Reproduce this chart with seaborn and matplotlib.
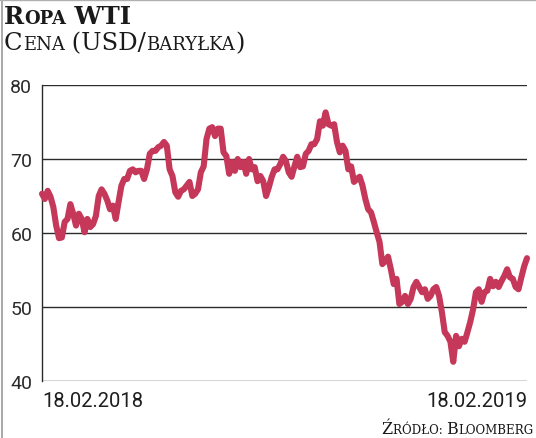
import matplotlib
matplotlib.use('Agg')
import matplotlib.pyplot as plt
from matplotlib.lines import Line2D
import seaborn as sns
import pandas as pd

# WTI price (USD per barrel), 18.02.2018 -> 18.02.2019
prices = [
    65.3, 64.6, 65.7, 64.9, 63.5, 61.0, 59.3, 59.4, 61.5, 61.9,
    63.9, 62.6, 61.0, 62.6, 61.9, 60.1, 61.9, 60.8, 61.2, 62.3,
    65.0, 65.9, 65.3, 64.4, 63.2, 63.7, 61.9, 64.2, 66.4, 67.3,
    67.3, 68.4, 68.6, 68.2, 68.4, 68.4, 67.3, 68.6, 70.7, 71.1,
    71.1, 71.6, 71.8, 72.3, 71.8, 68.6, 67.7, 65.5, 64.9, 65.7,
    65.9, 66.4, 66.9, 65.0, 65.3, 65.9, 68.2, 69.0, 72.7, 74.1,
    74.3, 73.1, 74.1, 74.1, 70.9, 70.4, 68.0, 69.6, 68.4, 70.0,
    68.9, 69.6, 68.0, 70.0, 68.6, 68.9, 67.0, 67.7, 67.0, 65.0,
    66.2, 67.6, 68.6, 68.6, 69.3, 70.3, 69.7, 68.2, 67.6, 69.0,
    70.3, 68.9, 69.0, 70.7, 71.1, 72.0, 72.0, 72.7, 75.1, 74.5,
    76.3, 74.7, 74.5, 74.7, 72.3, 70.9, 71.8, 71.1, 68.6, 69.0,
    66.9, 67.3, 67.6, 66.4, 64.6, 63.2, 62.8, 61.5, 60.1, 58.8,
    55.8, 56.2, 56.8, 55.1, 53.1, 53.8, 50.4, 50.7, 51.5, 50.4,
    51.1, 52.7, 53.4, 52.7, 52.0, 52.4, 51.1, 51.5, 52.4, 52.7,
    51.5, 49.3, 46.6, 46.1, 45.3, 42.6, 46.1, 44.7, 45.7, 45.3,
    46.6, 48.0, 49.7, 52.0, 52.4, 50.7, 52.0, 52.2, 53.8, 52.8,
    53.4, 52.7, 53.5, 54.2, 55.1, 54.0, 53.8, 52.7, 52.4, 54.0,
    55.5, 56.6,
]
start_date = '2018-02-18'
end_date = '2019-02-18'
x_labels = ['18.02.2018', '18.02.2019']
y_ticks = [40, 50, 60, 70, 80]

df = pd.DataFrame({
    'date': pd.date_range(start_date, end_date, periods=len(prices)),
    'price': prices,
})

sns.set_style('white')
plt.rcParams['font.family'] = ['Roboto', 'DejaVu Sans']

fig = plt.figure(figsize=(5.36, 4.39), dpi=100)
ax = fig.add_axes([42 / 536, 1 - 382 / 439, 485 / 536, 296 / 439])

sns.lineplot(data=df, x='date', y='price', ax=ax, color='#c5385a',
             linewidth=4.4, solid_capstyle='round', solid_joinstyle='round',
             clip_on=False, zorder=3)

ax.set_ylim(40, 80)
ax.set_xlim(df['date'].iloc[0], df['date'].iloc[-1])
ax.set_yticks(y_ticks)
ax.yaxis.grid(True, color='#2b2b2b', linewidth=1.0)
ax.set_axisbelow(True)
for side in ['top', 'right', 'bottom']:
    ax.spines[side].set_visible(False)
ax.spines['left'].set_color('#2b2b2b')
ax.spines['left'].set_linewidth(1.0)
ax.set_xlabel('')
ax.set_ylabel('')
ax.tick_params(axis='y', length=0, pad=7, labelsize=14, labelcolor='#2b2b2b')
ax.set_xticks([df['date'].iloc[0], df['date'].iloc[-1]])
ax.set_xticklabels(x_labels)
ax.tick_params(axis='x', length=0, pad=7, labelsize=14.5, labelcolor='#1e1e1e')
xt = ax.get_xticklabels()
xt[0].set_ha('left')
xt[1].set_ha('right')

# small-caps style text, built from pieces
fig.canvas.draw()
renderer = fig.canvas.get_renderer()


def small_caps(x, y, parts, weight, color='#1a1a1a', right=None):
    x0 = x
    texts = []
    for txt, size in parts:
        t = fig.text(x, y, txt, fontsize=size, fontweight=weight, color=color,
                     family=['DejaVu Serif', 'Liberation Serif'],
                     va='baseline', ha='left')
        bb = t.get_window_extent(renderer)
        x = bb.x1 / fig.bbox.width
        texts.append(t)
    if right is not None:
        shift = right - x
        for t in texts:
            t.set_x(t.get_position()[0] + shift)
    return x0


small_caps(4 / 536, 1 - 24 / 439,
           [('R', 17.5), ('OPA', 13), (' WTI', 17.5)], 'bold')
small_caps(4 / 536, 1 - 50 / 439,
           [('C', 17.5), ('ENA', 13), (' (USD/', 17.5), ('BARYŁKA', 13), (')', 17.5)],
           'normal')
small_caps(378 / 536, 1 - 434 / 439,
           [('Ź', 11.5), ('RÓDŁO: ', 8.6), ('B', 11.5), ('LOOMBERG', 8.6)],
           'normal', right=533 / 536)

# thin frame lines of the page scan
fig.add_artist(Line2D([1.5 / 536, 1.5 / 536], [0, 1], color='#9a9a9a', linewidth=1.2))
fig.add_artist(Line2D([0, 1], [1 - 1 / 439, 1 - 1 / 439], color='#b0b0b0', linewidth=1.0))

fig.savefig('out.png', dpi=100, facecolor='white')
